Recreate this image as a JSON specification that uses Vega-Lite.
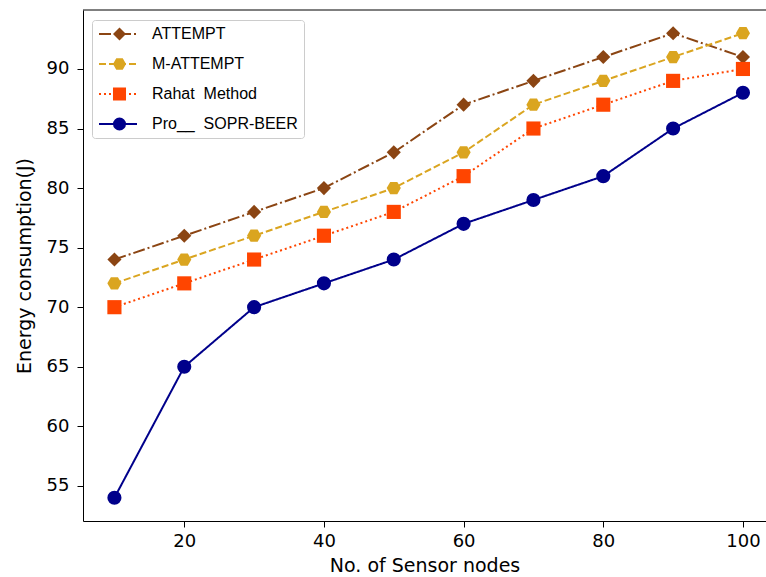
{
  "$schema": "https://vega.github.io/schema/vega-lite/v6.json",
  "width": 683,
  "height": 511,
  "autosize": {"type": "none"},
  "padding": {"left": 83, "top": 10, "right": 0, "bottom": 56},
  "background": "white",
  "config": {
    "view": {"stroke": null},
    "axis": {
      "grid": false,
      "domainColor": "black",
      "domainWidth": 1,
      "tickColor": "black",
      "tickSize": 6,
      "labelFont": "DejaVu Sans",
      "labelFontSize": 18,
      "labelColor": "black",
      "titleFont": "DejaVu Sans",
      "titleFontSize": 19,
      "titleFontWeight": "normal",
      "titleColor": "black",
      "labelFlush": false,
      "labelOverlap": false
    },
    "legend": {
      "title": null,
      "labelFont": "Liberation Sans",
      "labelFontSize": 16,
      "labelColor": "black"
    }
  },
  "data": {
    "values": [
      {"nodes": 10, "method": "ATTEMPT", "energy": 74},
      {"nodes": 20, "method": "ATTEMPT", "energy": 76},
      {"nodes": 30, "method": "ATTEMPT", "energy": 78},
      {"nodes": 40, "method": "ATTEMPT", "energy": 80},
      {"nodes": 50, "method": "ATTEMPT", "energy": 83},
      {"nodes": 60, "method": "ATTEMPT", "energy": 87},
      {"nodes": 70, "method": "ATTEMPT", "energy": 89},
      {"nodes": 80, "method": "ATTEMPT", "energy": 91},
      {"nodes": 90, "method": "ATTEMPT", "energy": 93},
      {"nodes": 100, "method": "ATTEMPT", "energy": 91},
      {"nodes": 10, "method": "M-ATTEMPT", "energy": 72},
      {"nodes": 20, "method": "M-ATTEMPT", "energy": 74},
      {"nodes": 30, "method": "M-ATTEMPT", "energy": 76},
      {"nodes": 40, "method": "M-ATTEMPT", "energy": 78},
      {"nodes": 50, "method": "M-ATTEMPT", "energy": 80},
      {"nodes": 60, "method": "M-ATTEMPT", "energy": 83},
      {"nodes": 70, "method": "M-ATTEMPT", "energy": 87},
      {"nodes": 80, "method": "M-ATTEMPT", "energy": 89},
      {"nodes": 90, "method": "M-ATTEMPT", "energy": 91},
      {"nodes": 100, "method": "M-ATTEMPT", "energy": 93},
      {"nodes": 10, "method": "Rahat\u00a0 Method", "energy": 70},
      {"nodes": 20, "method": "Rahat\u00a0 Method", "energy": 72},
      {"nodes": 30, "method": "Rahat\u00a0 Method", "energy": 74},
      {"nodes": 40, "method": "Rahat\u00a0 Method", "energy": 76},
      {"nodes": 50, "method": "Rahat\u00a0 Method", "energy": 78},
      {"nodes": 60, "method": "Rahat\u00a0 Method", "energy": 81},
      {"nodes": 70, "method": "Rahat\u00a0 Method", "energy": 85},
      {"nodes": 80, "method": "Rahat\u00a0 Method", "energy": 87},
      {"nodes": 90, "method": "Rahat\u00a0 Method", "energy": 89},
      {"nodes": 100, "method": "Rahat\u00a0 Method", "energy": 90},
      {"nodes": 10, "method": "Pro__\u00a0 SOPR-BEER", "energy": 54},
      {"nodes": 20, "method": "Pro__\u00a0 SOPR-BEER", "energy": 65},
      {"nodes": 30, "method": "Pro__\u00a0 SOPR-BEER", "energy": 70},
      {"nodes": 40, "method": "Pro__\u00a0 SOPR-BEER", "energy": 72},
      {"nodes": 50, "method": "Pro__\u00a0 SOPR-BEER", "energy": 74},
      {"nodes": 60, "method": "Pro__\u00a0 SOPR-BEER", "energy": 77},
      {"nodes": 70, "method": "Pro__\u00a0 SOPR-BEER", "energy": 79},
      {"nodes": 80, "method": "Pro__\u00a0 SOPR-BEER", "energy": 81},
      {"nodes": 90, "method": "Pro__\u00a0 SOPR-BEER", "energy": 85},
      {"nodes": 100, "method": "Pro__\u00a0 SOPR-BEER", "energy": 88}
    ]
  },
  "resolve": {"scale": {"color": "independent", "strokeDash": "independent", "shape": "independent"}},
  "layer": [
    {
      "mark": {"type": "line", "strokeWidth": 2},
      "encoding": {
        "x": {"field": "nodes", "type": "quantitative", "scale": {"domain": [5.5, 103.3], "nice": false, "zero": false},
              "axis": {"title": "No. of Sensor nodes", "values": [20, 40, 60, 80, 100], "labelPadding": 5, "titlePadding": 6}},
        "y": {"field": "energy", "type": "quantitative", "scale": {"domain": [52.05, 94.95], "nice": false, "zero": false},
              "axis": {"title": "Energy consumption(J)", "values": [55, 60, 65, 70, 75, 80, 85, 90], "labelPadding": 8, "titlePadding": 12}},
        "color": {"field": "method", "type": "nominal",
                  "scale": {"domain": ["ATTEMPT", "M-ATTEMPT", "Rahat\u00a0 Method", "Pro__\u00a0 SOPR-BEER"], "range": ["#8b4513", "#daa520", "#ff4500", "#00008b"]},
                  "legend": {"orient": "none", "legendX": 9, "legendY": 10, "zindex": 0, "symbolType": "stroke", "symbolSize": 1444, "symbolStrokeWidth": 2,
                             "padding": 6, "labelOffset": 14, "rowPadding": 14, "clipHeight": 16, "fillColor": "white", "strokeColor": "#cccccc", "cornerRadius": 3}},
        "strokeDash": {"field": "method", "type": "nominal",
                  "scale": {"domain": ["ATTEMPT", "M-ATTEMPT", "Rahat\u00a0 Method", "Pro__\u00a0 SOPR-BEER"], "range": [[12, 3, 2, 3], [7, 3], [2, 3], [1, 0]]},
                  "legend": {"orient": "none", "legendX": 9, "legendY": 10, "zindex": 0, "symbolType": "stroke", "symbolSize": 1444, "symbolStrokeWidth": 2,
                             "padding": 6, "labelOffset": 14, "rowPadding": 14, "clipHeight": 16, "fillColor": "white", "strokeColor": "#cccccc", "cornerRadius": 3}}
      }
    },
    {
      "mark": {"type": "point", "filled": true, "opacity": 1, "size": 200},
      "encoding": {
        "x": {"field": "nodes", "type": "quantitative"},
        "y": {"field": "energy", "type": "quantitative"},
        "color": {"field": "method", "type": "nominal",
                  "scale": {"domain": ["ATTEMPT", "M-ATTEMPT", "Rahat\u00a0 Method", "Pro__\u00a0 SOPR-BEER"], "range": ["#8b4513", "#daa520", "#ff4500", "#00008b"]},
                  "legend": {"orient": "none", "legendX": 9, "legendY": 10, "zindex": 1, "symbolSize": 170, "symbolOpacity": 1,
                             "padding": 6, "labelOffset": 14, "rowPadding": 14, "clipHeight": 16, "labelExpr": "''", "symbolOffset": 13.5}},
        "shape": {"field": "method", "type": "nominal",
                  "scale": {"domain": ["ATTEMPT", "M-ATTEMPT", "Rahat\u00a0 Method", "Pro__\u00a0 SOPR-BEER"],
                            "range": ["diamond", "M-1,0L-0.5,-0.866L0.5,-0.866L1,0L0.5,0.866L-0.5,0.866Z", "square", "circle"]},
                  "legend": {"orient": "none", "legendX": 9, "legendY": 10, "zindex": 1, "symbolSize": 170, "symbolOpacity": 1,
                             "padding": 6, "labelOffset": 14, "rowPadding": 14, "clipHeight": 16, "labelExpr": "''", "symbolOffset": 13.5}}
      }
    },
    {
      "data": {"values": [{}]},
      "mark": {"type": "rule", "color": "black", "strokeWidth": 1},
      "encoding": {"y": {"datum": 94.95, "type": "quantitative"}}
    }
  ]
}
